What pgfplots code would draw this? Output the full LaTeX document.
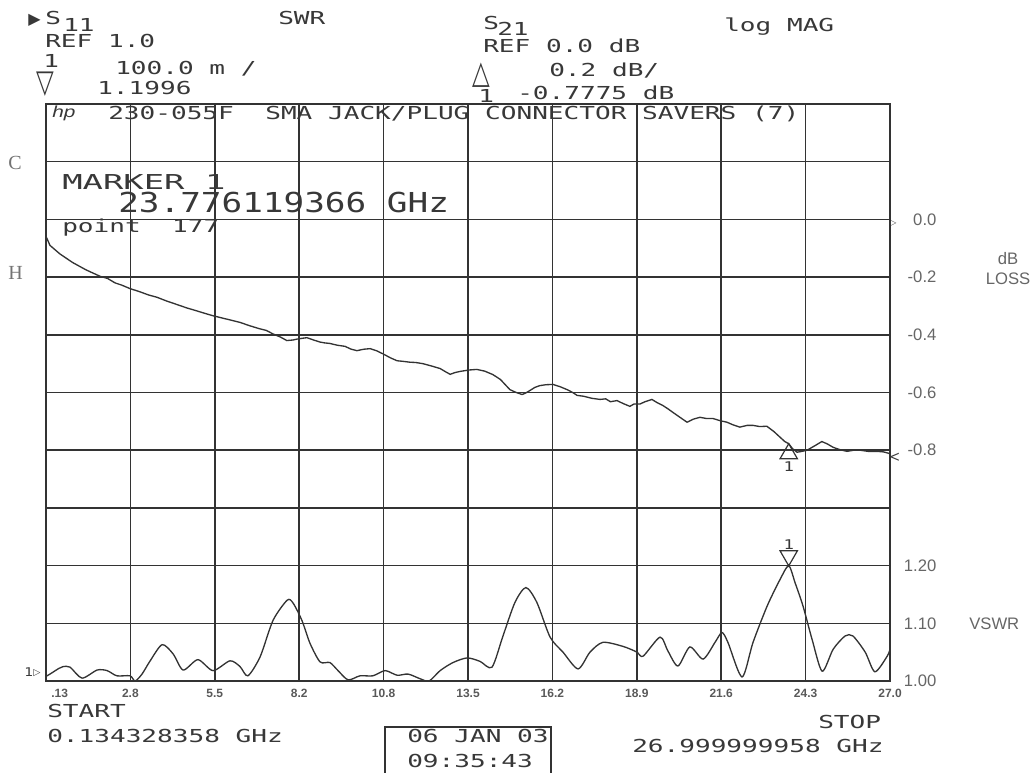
\documentclass[border=0pt]{standalone}
\usepackage{pgfplots}
\pgfplotsset{compat=1.18}
\usepackage{graphicx}
\usepackage{fontspec}
\setmainfont{Liberation Sans}
\newfontfamily\plotfont{DejaVu Sans Mono}
\newfontfamily\symfont{DejaVu Sans}
\newfontfamily\seriffont{Liberation Serif}
\definecolor{ink}{gray}{0.2}
\definecolor{txt}{gray}{0.22}
\newcommand{\plt}[1]{\scalebox{1.46}[1]{\fontsize{13.4pt}{14pt}\plotfont #1}}
\begin{document}
\begin{tikzpicture}
\useasboundingbox (0,0) rectangle (775.5pt,-579.75pt);
% ---------- VSWR axis with grid ----------
\begin{axis}[
  at={(34.5pt,-510.75pt)}, anchor=south west, scale only axis,
  width=633pt, height=432.75pt,
  xmin=0.134, xmax=27.0, ymin=1.0, ymax=2.0,
  xtick={0.134,2.8206,5.5072,8.1938,10.8804,13.567,16.2536,18.9402,21.6268,24.3134,27.0},
  xticklabels={\makebox[0pt][l]{\hspace{4pt}.13},2.8,5.5,8.2,10.8,13.5,16.2,18.9,21.6,24.3,27.0},
  ytick={1.0,1.1,1.2,1.3,1.4,1.5,1.6,1.7,1.8,1.9,2.0},
  yticklabels={1.00,1.10,1.20,,-0.8,-0.6,-0.4,-0.2,0.0,,},
  yticklabel pos=right,
  grid=major, major grid style={ink, line width=1.1pt},
  axis line style={ink, line width=1.1pt},
  major tick length=0pt,
  xticklabel style={font=\fontsize{9}{9}\selectfont\bfseries, text=black!65, anchor=north, inner sep=0pt, yshift=-6pt},
  yticklabel style={font=\fontsize{12.5}{13}\selectfont, text=black!60, anchor=east, inner sep=0pt, xshift=35pt},
  clip=false,
]
\addplot[ink, line width=1pt, smooth, tension=0.45] coordinates {
(0.134,1.008) (0.26,1.012) (0.55,1.022) (0.68,1.025) (0.90,1.024) (1.28,1.005)
(1.76,1.019) (2.08,1.018) (2.39,1.009) (2.81,1.009) (2.97,1.000) (3.19,1.012)
(3.45,1.035) (3.83,1.063) (4.18,1.047) (4.50,1.019) (4.97,1.037) (5.45,1.018)
(5.99,1.035) (6.31,1.025) (6.56,1.009) (6.95,1.042) (7.36,1.105) (7.81,1.140)
(8.00,1.135) (8.28,1.105) (8.54,1.065) (8.86,1.033) (9.17,1.032) (9.43,1.018)
(9.75,1.002) (10.13,1.009) (10.54,1.009) (10.93,1.018) (11.31,1.010) (11.66,1.012)
(12.04,1.004) (12.33,1.000) (12.68,1.018) (13.09,1.032) (13.54,1.040) (13.95,1.034)
(14.33,1.024) (14.68,1.078) (15.06,1.136) (15.41,1.162) (15.76,1.136) (16.18,1.076)
(16.59,1.050) (17.07,1.021) (17.45,1.050) (17.86,1.067) (18.50,1.060) (18.95,1.050)
(19.14,1.043) (19.68,1.076) (19.93,1.052) (20.25,1.026) (20.63,1.059) (21.05,1.038)
(21.43,1.067) (21.65,1.084) (21.84,1.067) (22.29,1.007) (22.64,1.067) (23.09,1.130)
(23.50,1.176) (23.776,1.1996) (23.98,1.170) (24.23,1.130) (24.52,1.072) (24.84,1.017)
(25.19,1.055) (25.57,1.078) (25.82,1.078) (26.21,1.050) (26.52,1.016) (26.91,1.043)
(27.0,1.055)
};
\addplot[only marks, mark=triangle, mark size=7.5pt, mark options={yshift=7.5pt, rotate=180, draw=ink, fill=white, line width=0.9pt}] coordinates {(23.776,1.1996)};
\node[anchor=south, inner sep=0pt, text=txt] at (axis cs:23.776,1.1996) [yshift=12pt] {\scalebox{1.3}[1]{\fontsize{10}{10}\plotfont 1}};
\end{axis}
% ---------- S21 axis ----------
\begin{axis}[
  at={(34.5pt,-510.75pt)}, anchor=south west, scale only axis,
  width=633pt, height=432.75pt,
  xmin=0.134, xmax=27.0, ymin=-1.6, ymax=0.4,
  hide axis, clip=false,
]
\addplot[ink, line width=1pt] coordinates {
(0.134,-0.060) (0.16,-0.065) (0.26,-0.090) (0.58,-0.120) (0.99,-0.150) (1.41,-0.175)
(1.85,-0.197) (2.10,-0.205) (2.33,-0.220) (2.55,-0.228) (2.81,-0.240) (3.10,-0.250)
(3.40,-0.262) (3.67,-0.270) (3.95,-0.282) (4.30,-0.295) (4.62,-0.307) (4.90,-0.316)
(5.20,-0.326) (5.45,-0.334) (5.75,-0.342) (6.05,-0.350) (6.31,-0.357) (6.60,-0.368)
(6.90,-0.378) (7.15,-0.385) (7.36,-0.397) (7.60,-0.408) (7.80,-0.420) (8.00,-0.418)
(8.12,-0.415) (8.30,-0.412) (8.44,-0.410) (8.65,-0.418) (8.85,-0.425) (9.00,-0.428)
(9.17,-0.430) (9.40,-0.436) (9.65,-0.440) (9.85,-0.450) (10.03,-0.455) (10.25,-0.450)
(10.45,-0.448) (10.65,-0.455) (10.86,-0.466) (11.10,-0.480) (11.31,-0.490) (11.50,-0.492)
(11.72,-0.495) (11.90,-0.496) (12.13,-0.500) (12.40,-0.508) (12.68,-0.517) (12.85,-0.528)
(13.00,-0.537) (13.15,-0.531) (13.31,-0.527) (13.60,-0.522) (13.85,-0.520) (14.10,-0.526)
(14.36,-0.538) (14.60,-0.555) (14.90,-0.590) (15.10,-0.600) (15.29,-0.607) (15.40,-0.602)
(15.54,-0.593) (15.70,-0.582) (15.86,-0.576) (16.05,-0.573) (16.27,-0.572) (16.50,-0.580)
(16.72,-0.590) (16.90,-0.600) (17.04,-0.610) (17.25,-0.613) (17.50,-0.620) (17.77,-0.624)
(17.95,-0.622) (18.10,-0.632) (18.31,-0.628) (18.50,-0.638) (18.72,-0.648) (18.85,-0.640)
(19.04,-0.640) (19.20,-0.632) (19.42,-0.624) (19.60,-0.636) (19.77,-0.645) (19.95,-0.658)
(20.09,-0.669) (20.30,-0.685) (20.54,-0.703) (20.75,-0.692) (20.95,-0.686) (21.15,-0.690)
(21.36,-0.690) (21.60,-0.698) (21.81,-0.703) (22.00,-0.712) (22.22,-0.720) (22.45,-0.714)
(22.64,-0.714) (22.85,-0.718) (23.08,-0.717) (23.30,-0.735) (23.50,-0.755) (23.65,-0.770)
(23.776,-0.7775) (23.90,-0.795) (24.04,-0.807) (24.20,-0.804) (24.36,-0.800) (24.60,-0.785)
(24.83,-0.770) (25.00,-0.778) (25.19,-0.790) (25.40,-0.798) (25.63,-0.804) (25.85,-0.800)
(26.04,-0.800) (26.30,-0.804) (26.58,-0.804) (26.80,-0.806) (27.00,-0.812)
};
\addplot[only marks, mark=triangle, mark size=7.5pt, mark options={yshift=-7.5pt, draw=ink, fill=white, line width=0.9pt}] coordinates {(23.776,-0.7775)};
\node[anchor=north, inner sep=0pt, text=txt] at (axis cs:23.776,-0.7775) [yshift=-13pt] {\scalebox{1.3}[1]{\fontsize{10}{10}\plotfont 1}};
\end{axis}
\begin{scope}[x=0.75pt,y=-0.75pt,tl/.style={anchor=base west,inner sep=0pt,text=txt}]
% ---------- header texts ----------
\node[tl] at (28,25) {\symfont\fontsize{12}{12}\selectfont ▶};
\node[tl] at (45,25) {\plt{S}};
\node[tl] at (63,32) {\plt{11}};
\node[tl] at (278,25) {\plt{SWR}};
\node[tl] at (45,48) {\plt{REF 1.0}};
\node[tl] at (43,68) {\plt{1}};
\node[tl] at (115,75) {\plt{100.0 m /}};
\node[anchor=north west, inner sep=0pt, text=txt] at (36,72) {\scalebox{1.15}[1.6]{\symfont\fontsize{15}{15}\selectfont ▽}};
\node[tl] at (97,95) {\plt{1.1996}};
\node[tl] at (483,30) {\plt{S}};
\node[tl] at (497,36) {\plt{21}};
\node[tl] at (483,53) {\plt{REF 0.0 dB}};
\node[tl] at (549,77) {\plt{0.2 dB/}};
\node[anchor=north west, inner sep=0pt, text=txt] at (472,63) {\scalebox{1.15}[1.6]{\symfont\fontsize{15}{15}\selectfont △}};
\node[tl] at (478,103) {\plt{1}};
\node[tl] at (517,100) {\plt{-0.7775 dB}};
\node[tl] at (724,32) {\plt{log MAG}};
\node[tl] at (52,118) {\scalebox{1.3}[1]{\fontsize{12}{12}\selectfont\itshape hp}};
\node[tl] at (108,120) {\plt{230-055F\ \ SMA JACK/PLUG CONNECTOR SAVERS (7)}};
\node[tl] at (62,190) {\scalebox{1.65}[1]{\fontsize{15.4pt}{16pt}\plotfont MARKER 1}};
\node[tl] at (118,213) {\scalebox{1.25}[1]{\fontsize{20.6pt}{21pt}\plotfont 23.776119366 GHz}};
\node[tl] at (62,233) {\plt{point\ \ 177}};
\node[anchor=base west, inner sep=0pt, text=black!55] at (8,170) {\fontsize{15}{15}\seriffont C};
\node[anchor=base west, inner sep=0pt, text=black!55] at (8,280) {\fontsize{15}{15}\seriffont H};
% ---------- bottom texts ----------
\node[tl] at (47,717) {\plt{START}};
\node[tl] at (47,742) {\plt{0.134328358 GHz}};
\node[tl] at (818,728) {\plt{STOP}};
\node[tl] at (632,752) {\plt{26.999999958 GHz}};
\draw[ink, line width=1.1pt] (385,773) -- (385,727) -- (551,727) -- (551,773);
\node[tl] at (407,742) {\plt{06 JAN 03}};
\node[tl] at (407,767) {\plt{09:35:43}};
\node[tl] at (24,676) {\scalebox{1.2}[1]{\fontsize{9}{9}\plotfont 1}};
\node[anchor=west, inner sep=0pt, text=txt] at (33,673) {\symfont\fontsize{7}{7}\selectfont ▷};
% ---------- right texts ----------
\node[anchor=west, inner sep=0pt, text=txt] at (890,223) {\symfont\fontsize{6}{6}\selectfont ▷};
\node[anchor=west, inner sep=0pt, text=txt] at (890,458) {\fontsize{12}{12}\selectfont <};
\node[anchor=base, inner sep=0pt, text=black!60] at (1008,265) {\fontsize{12.5}{13}\selectfont dB};
\node[anchor=base, inner sep=0pt, text=black!60] at (1008,285) {\fontsize{12.5}{13}\selectfont LOSS};
\node[anchor=base west, inner sep=0pt, text=black!60] at (969,629) {\fontsize{12.5}{13}\selectfont VSWR};
\end{scope}
\end{tikzpicture}
\end{document}
